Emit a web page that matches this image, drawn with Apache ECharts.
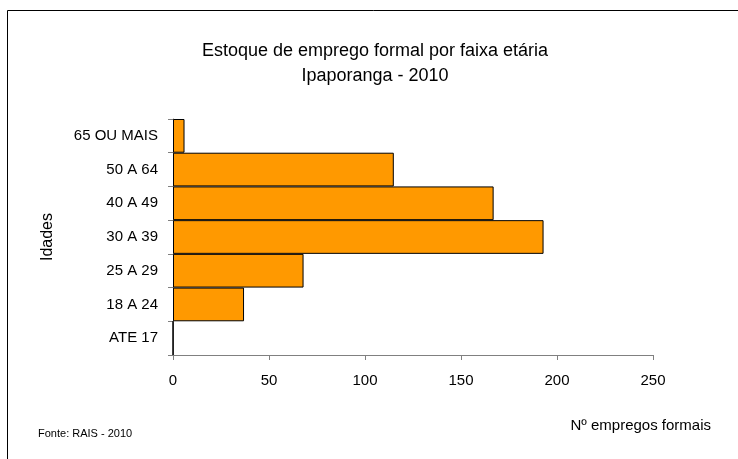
<!DOCTYPE html>
<html><head><meta charset="utf-8">
<script src="https://cdn.jsdelivr.net/npm/echarts@6/dist/echarts.min.js"></script>
<style>html,body{margin:0;padding:0;background:#fff}#c{width:738px;height:459px}</style>
</head><body><div id="c"></div>
<script>
const categories = ['ATE 17', '18 A 24', '25 A 29', '30 A 39', '40 A 49', '50 A 64', '65 OU MAIS'];
const values = [0, 37, 68, 193, 167, 115, 6];
const xTicks = [0, 50, 100, 150, 200, 250];

const FONT = 'Liberation Sans, Arial, sans-serif';
const chart = echarts.init(document.getElementById('c'), null, {renderer: 'canvas'});
chart.setOption({
  animation: false,
  backgroundColor: '#fff',
  graphic: [
    {type: 'rect', shape: {x: 7.5, y: 10.5, width: 740, height: 460}, style: {fill: 'none', stroke: '#000', lineWidth: 1}, silent: true},
    {type: 'text', left: 38, top: 428, style: {text: 'Fonte: RAIS - 2010', font: '11px ' + FONT, fill: '#000'}}
  ],
  title: {
    text: 'Estoque de emprego formal por faixa etária\nIpaporanga - 2010',
    left: 370, top: 34, textAlign: 'center',
    textStyle: {fontFamily: FONT, fontSize: 18, fontWeight: 'normal', color: '#000', lineHeight: 25}
  },
  grid: {left: 173, right: 85, top: 119, bottom: 104},
  xAxis: {
    type: 'value', min: xTicks[0], max: xTicks[xTicks.length - 1], interval: 50,
    name: 'Nº empregos formais', nameLocation: 'end',
    nameGap: 0,
    nameTextStyle: {fontFamily: FONT, fontSize: 15, color: '#000', align: 'right', verticalAlign: 'top', padding: [63, -58, 0, 0]},
    axisLine: {show: true, lineStyle: {color: '#808080', width: 1}},
    axisTick: {show: true, length: 5, lineStyle: {color: '#808080'}},
    axisLabel: {fontFamily: FONT, fontSize: 15, color: '#000', margin: 18},
    splitLine: {show: false}
  },
  yAxis: {
    type: 'category', data: categories,
    name: 'Idades', nameLocation: 'middle', nameGap: 117, nameRotate: 90,
    nameTextStyle: {fontFamily: FONT, fontSize: 16, color: '#000'},
    axisLine: {show: true, lineStyle: {color: '#808080', width: 1}},
    axisTick: {show: true, length: 5, lineStyle: {color: '#808080'}},
    axisLabel: {fontFamily: FONT, fontSize: 15, color: '#000', margin: 15}
  },
  series: [{
    type: 'bar', data: values, barCategoryGap: '0%',
    itemStyle: {color: '#FF9900', borderColor: '#000', borderWidth: 1}
  }]
});
</script></body></html>
